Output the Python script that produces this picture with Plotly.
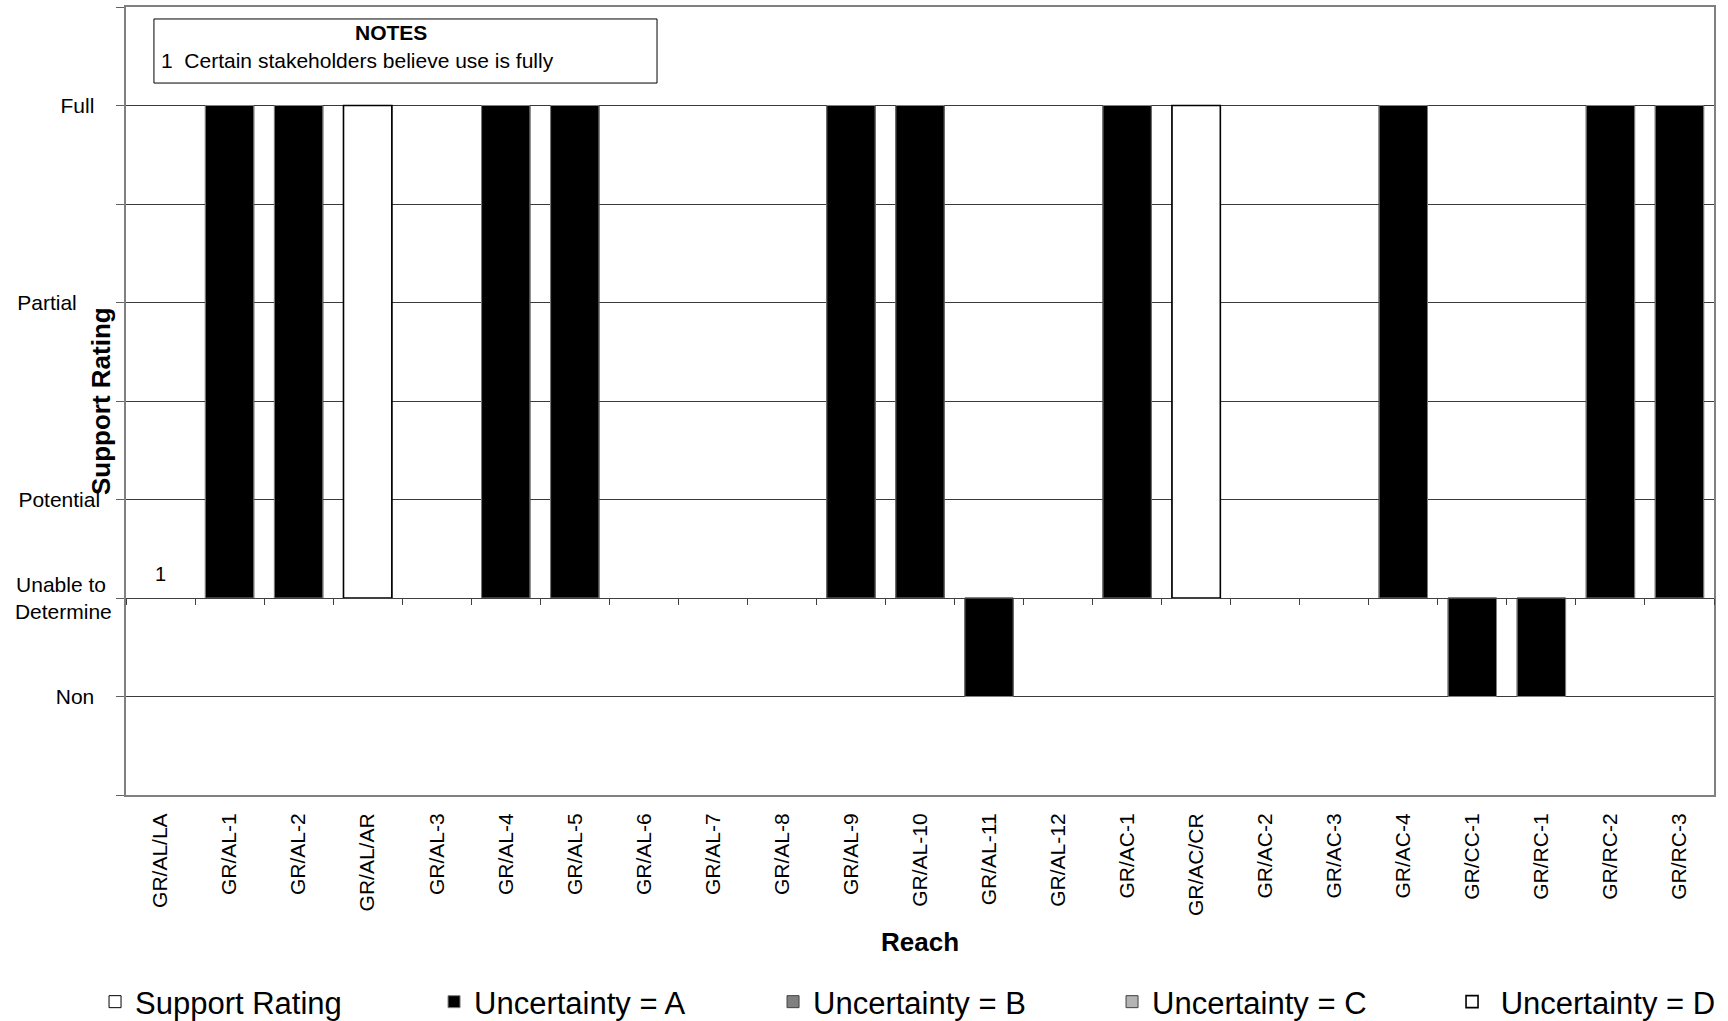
import plotly.graph_objects as go

# ---------------- data ----------------
reaches = ["GR/AL/LA", "GR/AL-1", "GR/AL-2", "GR/AL/AR", "GR/AL-3", "GR/AL-4",
           "GR/AL-5", "GR/AL-6", "GR/AL-7", "GR/AL-8", "GR/AL-9", "GR/AL-10",
           "GR/AL-11", "GR/AL-12", "GR/AC-1", "GR/AC/CR", "GR/AC-2", "GR/AC-3",
           "GR/AC-4", "GR/CC-1", "GR/RC-1", "GR/RC-2", "GR/RC-3"]
# rating scale: 1 = Non, 2 = Unable to Determine, 3 = Potential, 5 = Partial, 7 = Full
support_rating = [None, 7, 7, 7, None, 7, 7, None, None, None, 7, 7,
                  1, None, 7, 7, None, None, 7, 1, 1, 7, 7]
uncertainty = ["", "A", "A", "D", "", "A", "A", "", "", "", "A", "A",
               "A", "", "A", "D", "", "", "A", "A", "A", "A", "A"]
note_labels = ["1", "", "", "", "", "", "", "", "", "", "", "",
               "", "", "", "", "", "", "", "", "", "", ""]
rating_tick_vals = [0, 1, 2, 3, 4, 5, 6, 7, 8]
NB = "\u00a0"
rating_tick_text = ["", "Non" + NB * 3, "Unable to" + NB + "<br>Determine", "Potential" + NB * 2, "",
                    "Partial" + NB * 6, "", "Full" + NB * 3, ""]
baseline = 2
uncertainty_levels = ["A", "B", "C", "D"]
legend_names = {"A": "Uncertainty = A", "B": "Uncertainty = B",
                "C": "Uncertainty = C", "D": NB + "Uncertainty = D"}
notes_title = "NOTES"
notes_text = "1" + NB + " Certain stakeholders believe use is fully"

# ---------------- styles ----------------
FONT = "Arial, 'Liberation Sans', sans-serif"
level_style = {
    "A": dict(color="#000000", line="#7f7f7f", lw=1, legend="legend"),
    "B": dict(color="#808080", line="#404040", lw=1, legend="legend"),
    "C": dict(color="#b4b4b4", line="#404040", lw=1, legend="legend"),
    "D": dict(color="#ffffff", line="#000000", lw=1.6, legend="legend2"),
}

fig = go.Figure()

# Support rating series (base layer)
fig.add_trace(go.Bar(
    x=reaches,
    y=[(v - baseline) if v is not None else None for v in support_rating],
    base=baseline,
    name="Support Rating",
    marker=dict(color="#ffffff", line=dict(color="#000000", width=1)),
    hoverinfo="x", legend="legend",
))

for lvl in uncertainty_levels:
    st = level_style[lvl]
    fig.add_trace(go.Bar(
        x=reaches,
        y=[(v - baseline) if (v is not None and u == lvl) else None
           for v, u in zip(support_rating, uncertainty)],
        base=baseline,
        name=legend_names[lvl],
        marker=dict(color=st["color"], line=dict(color=st["line"], width=st["lw"])),
        hoverinfo="x", legend=st["legend"],
    ))

# invisible helper trace for the crossing axis at "Unable to Determine"
fig.add_trace(go.Scatter(x=list(range(len(reaches))), y=[None] * len(reaches),
                         xaxis="x2", yaxis="y", showlegend=False, hoverinfo="skip",
                         mode="markers"))

# data labels (note references)
for r, lab in zip(reaches, note_labels):
    if lab:
        fig.add_annotation(x=r, y=baseline, xref="x", yref="y", text=lab,
                           showarrow=False, yanchor="middle", yshift=24,
                           font=dict(family=FONT, size=20, color="#000"))

# notes box
fig.add_shape(type="rect", xref="paper", yref="paper",
              x0=0.0176, x1=0.3344, y0=0.9035, y1=0.9848,
              line=dict(color="#000000", width=1), fillcolor="#ffffff", layer="above")
fig.add_annotation(xref="paper", yref="paper", x=0.1669, y=0.968, text=f"<b>{notes_title}</b>",
                   showarrow=False, xanchor="center", yanchor="middle",
                   font=dict(family=FONT, size=21, color="#000"))
fig.add_annotation(xref="paper", yref="paper", x=0.0208, y=0.9326, text=notes_text,
                   showarrow=False, xanchor="left", yanchor="middle",
                   font=dict(family=FONT, size=21, color="#000"))

# axis titles
fig.add_annotation(xref="paper", yref="paper", x=-0.0157, y=0.5, text="<b>Support Rating</b>",
                   textangle=-90, showarrow=False, xanchor="center", yanchor="middle",
                   font=dict(family=FONT, size=26, color="#000"))
fig.add_annotation(xref="paper", yref="paper", x=0.5, y=-0.1866, text="<b>Reach</b>",
                   showarrow=False, xanchor="center", yanchor="middle",
                   font=dict(family=FONT, size=26, color="#000"))

n = len(reaches)
legend_common = dict(orientation="h", xref="container", yref="container",
                     yanchor="middle", y=0.0186,
                     font=dict(family=FONT, size=31, color="#000"),
                     bgcolor="rgba(0,0,0,0)", traceorder="normal", itemwidth=30)
fig.update_layout(
    width=1728, height=1021,
    margin=dict(l=126, r=14, t=7, b=226, pad=0),
    paper_bgcolor="#ffffff", plot_bgcolor="#ffffff",
    font=dict(family=FONT, size=21, color="#000000"),
    barmode="overlay", bargap=0.3,
    showlegend=True,
    legend=dict(x=0.0550, xanchor="left", entrywidth=294, entrywidthmode="pixels",
                **legend_common),
    legend2=dict(x=0.8403, xanchor="left", **legend_common),
    xaxis=dict(type="category", categoryorder="array", categoryarray=reaches,
               range=[-0.5, n - 0.5], showgrid=False, zeroline=False, automargin=False,
               showline=True, mirror=True, linecolor="#808080", linewidth=2,
               ticks="", tickangle=-90, ticklabelstandoff=8,
               tickfont=dict(family=FONT, size=21, color="#000")),
    xaxis2=dict(overlaying="x", anchor="free", position=baseline / 8.0,
                range=[-0.5, n - 0.5], tick0=0.5, dtick=1, automargin=False,
                showticklabels=False, ticks="outside", ticklen=6, tickcolor="#404040",
                tickwidth=1, showline=True, linecolor="#404040", linewidth=1,
                showgrid=False, zeroline=False),
    yaxis=dict(range=[0, 8], tickvals=rating_tick_vals, ticktext=rating_tick_text,
               showgrid=True, gridcolor="#3a3a3a", gridwidth=1, zeroline=False,
               automargin=False,
               showline=True, mirror=True, linecolor="#808080", linewidth=2,
               ticks="outside", ticklen=8, tickcolor="#606060", tickwidth=1,
               ticklabelstandoff=0,
               tickfont=dict(family=FONT, size=21, color="#000")),
)

fig.write_html("out.html", config={"displayModeBar": False},
               post_script="document.body.style.margin='0';document.body.style.overflow='hidden';")
